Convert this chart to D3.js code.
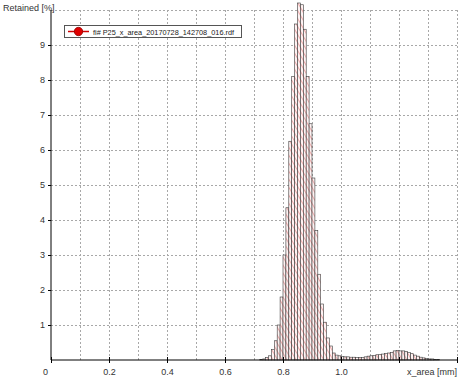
<!DOCTYPE html>
<html>
<head>
<meta charset="utf-8">
<script src="https://cdn.jsdelivr.net/npm/d3@7"></script>
<style>
  html, body { margin: 0; padding: 0; background: #fff; }
  svg { display: block; }
  text { font-family: "Liberation Sans", Arial, sans-serif; }
</style>
</head>
<body>
<script>
// ---- data ----
const binStart = [0.72,0.73,0.74,0.75,0.76,0.77,0.78,0.79,0.80,0.81,0.82,0.83,0.84,0.85,0.86,0.87,0.88,0.89,0.90,0.91,0.92,0.93,0.94,0.95,0.96,0.97,0.98,0.99,1.00,1.01,1.02,1.03,1.04,1.05,1.06,1.07,1.08,1.09,1.10,1.11,1.12,1.13,1.14,1.15,1.16,1.17,1.18,1.19,1.20,1.21,1.22,1.23,1.24,1.25,1.26,1.27,1.28,1.29,1.30,1.31,1.32,1.33];
const retained = [0.01,0.03,0.07,0.12,0.30,0.55,1.00,1.80,3.00,4.35,6.25,8.10,9.60,10.20,10.15,9.45,8.10,6.75,5.20,3.70,2.45,1.60,1.08,0.63,0.40,0.20,0.14,0.12,0.10,0.09,0.09,0.08,0.08,0.07,0.07,0.07,0.09,0.11,0.12,0.13,0.15,0.16,0.17,0.19,0.20,0.22,0.26,0.27,0.26,0.26,0.24,0.21,0.18,0.14,0.11,0.08,0.06,0.04,0.03,0.03,0.02,0.02];
const binWidth = 0.01;
const xTickValues = [0, 0.2, 0.4, 0.6, 0.8, 1.0];
const xTickLabels = ["0", "0.2", "0.4", "0.6", "0.8", "1.0"];
const yTickValues = [1,2,3,4,5,6,7,8,9];
const xGridValues = [0.1,0.2,0.3,0.4,0.5,0.6,0.7,0.8,0.9,1.0,1.1,1.2,1.3,1.4];
const yGridValues = [1,2,3,4,5,6,7,8,9,10];
const yTitle = "Retained [%]";
const xTitle = "x_area [mm]";
const legendLabel = "fi# P25_x_area_20170728_142708_016.rdf";

// ---- layout ----
const W = 465, H = 385;
const x = d3.scaleLinear().domain([0, 1.4]).range([51, 457]);
const y = d3.scaleLinear().domain([0, 10]).range([360, 10]);

const svg = d3.select("body").append("svg").attr("width", W).attr("height", H);

const defs = svg.append("defs");
const pat = defs.append("pattern")
  .attr("id", "hatch").attr("patternUnits", "userSpaceOnUse")
  .attr("width", 4).attr("height", 4)
  .attr("patternTransform", "rotate(-30)");
pat.append("rect").attr("width", 4).attr("height", 4).attr("fill", "#fdf3f3");
pat.append("line").attr("x1", 0).attr("y1", 0).attr("x2", 0).attr("y2", 4)
  .attr("stroke", "#d83c3c").attr("stroke-width", 0.8);

// grid
const grid = svg.append("g");
grid.selectAll("line.gx").data(xGridValues).join("line")
  .attr("x1", d => Math.round(x(d)) + 0.5).attr("x2", d => Math.round(x(d)) + 0.5)
  .attr("y1", y(10)).attr("y2", y(0))
  .attr("stroke", "#a8a8a8").attr("stroke-width", 1)
  .attr("stroke-dasharray", "2,2");
grid.selectAll("line.gy").data(yGridValues).join("line")
  .attr("x1", x(0)).attr("x2", x(1.4))
  .attr("y1", d => Math.round(y(d)) + 0.5).attr("y2", d => Math.round(y(d)) + 0.5)
  .attr("stroke", "#a8a8a8").attr("stroke-width", 1)
  .attr("stroke-dasharray", "2,2");

// bars
const bars = binStart.map((b, i) => ({ x0: b, x1: b + binWidth, v: retained[i] }));
svg.append("g").selectAll("rect").data(bars).join("rect")
  .attr("x", d => x(d.x0))
  .attr("width", d => x(d.x1) - x(d.x0))
  .attr("y", d => y(d.v))
  .attr("height", d => y(0) - y(d.v))
  .attr("fill", "url(#hatch)")
  .attr("stroke", "#3a3a3a").attr("stroke-width", 0.6);

// axes
const yAxis = d3.axisLeft(y).tickValues(yTickValues).tickSize(3).tickPadding(3).tickFormat(d3.format("d"));
const gy = svg.append("g").attr("transform", `translate(${x(0)},0)`).call(yAxis);
gy.select(".domain").attr("stroke", "#000").attr("d", `M0,${y(0)}V${y(10)}`);
gy.selectAll("text").attr("font-size", 9).attr("fill", "#333").attr("font-family", "Liberation Sans, Arial, sans-serif");

const xAxis = d3.axisBottom(x).tickValues(xTickValues.concat([1.2, 1.4])).tickSize(3).tickPadding(6)
  .tickFormat((d) => { const i = xTickValues.indexOf(d); return i >= 0 ? xTickLabels[i] : ""; });
const gx = svg.append("g").attr("transform", `translate(0,${y(0)})`).call(xAxis);
gx.select(".domain").attr("stroke", "#000").attr("d", `M${x(0)},0H${x(1.4)}`);
gx.selectAll(".tick line").attr("y1", -3).attr("y2", 3).attr("stroke", "#000");
gx.selectAll("text").attr("font-size", 9).attr("fill", "#333").attr("font-family", "Liberation Sans, Arial, sans-serif");
gx.selectAll(".tick").filter(d => d === 0).select("text").attr("dx", -6);

// titles
svg.append("text").attr("x", 3).attr("y", 11).attr("font-size", 9).attr("fill", "#333").text(yTitle);
svg.append("text").attr("x", x(1.4)).attr("y", 375).attr("text-anchor", "end").attr("font-size", 9).attr("fill", "#333").text(xTitle);

// legend
const lg = svg.append("g");
lg.append("rect").attr("x", 64.5).attr("y", 25.5).attr("width", 177).attr("height", 12)
  .attr("fill", "#fff").attr("stroke", "#555").attr("stroke-width", 1);
lg.append("line").attr("x1", 68).attr("x2", 89).attr("y1", 31.5).attr("y2", 31.5)
  .attr("stroke", "#d00000").attr("stroke-width", 1.5);
lg.append("circle").attr("cx", 78.5).attr("cy", 31.5).attr("r", 4.2)
  .attr("fill", "#e00000").attr("stroke", "#900000").attr("stroke-width", 0.8);
lg.append("text").attr("x", 93).attr("y", 34.5).attr("font-size", 8).attr("fill", "#222")
  .attr("textLength", 141).attr("lengthAdjust", "spacingAndGlyphs").text(legendLabel);
</script>
</body>
</html>
